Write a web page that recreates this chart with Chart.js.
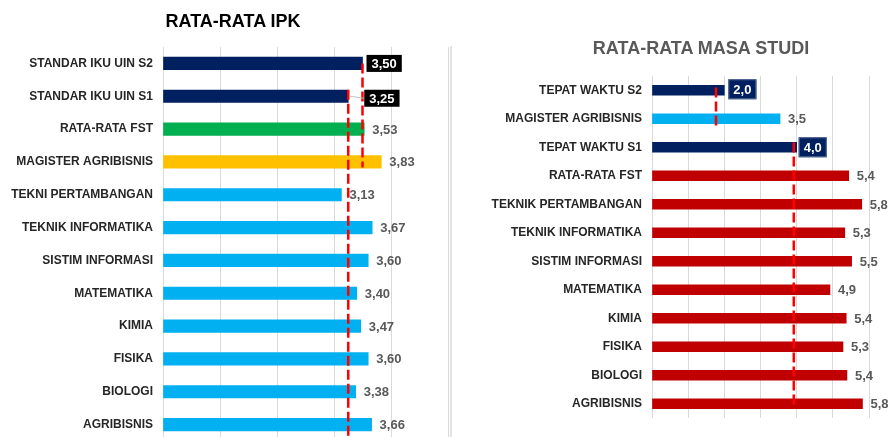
<!DOCTYPE html>
<html>
<head>
<meta charset="utf-8">
<script src="https://cdn.jsdelivr.net/npm/chart.js@4/dist/chart.umd.min.js"></script>
<style>
  html, body { margin: 0; padding: 0; background: #ffffff; overflow: hidden; width: 892px; height: 437px; }
  #wrap { position: relative; width: 892px; height: 437px; overflow: hidden; }
  canvas { position: absolute; top: 0; }
  #c1 { left: 0; }
  #c2 { left: 450px; }
  .title { position: absolute; font-family: "Liberation Sans", Arial, sans-serif; font-weight: bold; font-size: 18px; line-height: 18px; white-space: nowrap; transform: translateX(-50%); }
  #t1 { left: 233px; top: 12px; color: #000000; }
  #t2 { left: 701px; top: 39px; color: #595959; }
  #sep { position: absolute; left: 450px; top: 46px; width: 2px; height: 391px; background: #e3e3e3; }
</style>
</head>
<body>
<div id="wrap">
  <div id="sep"></div>
  <canvas id="c1" width="450" height="460" style="width:450px;height:460px"></canvas>
  <canvas id="c2" width="442" height="437" style="width:442px;height:437px"></canvas>
  <div class="title" id="t1">RATA-RATA IPK</div>
  <div class="title" id="t2">RATA-RATA MASA STUDI</div>
</div>
<script>
// ---------- DATA: RATA-RATA IPK ----------
const categoriesIPK = ['STANDAR IKU UIN S2', 'STANDAR IKU UIN S1', 'RATA-RATA FST', 'MAGISTER AGRIBISNIS',
  'TEKNI PERTAMBANGAN', 'TEKNIK INFORMATIKA', 'SISTIM INFORMASI', 'MATEMATIKA', 'KIMIA', 'FISIKA', 'BIOLOGI', 'AGRIBISNIS'];
const valuesIPK = [3.50, 3.25, 3.53, 3.83, 3.13, 3.67, 3.60, 3.40, 3.47, 3.60, 3.38, 3.66];
const ticksIPK = [0, 1, 2, 3, 4, 5];
// reference (dashed) lines: value and the category span (index positions) they cover
const refValuesIPK = [3.25, 3.50];
const refFromIPK = [0.8, 0];
const refToIPK = [11.5, 3.17];

// ---------- DATA: RATA-RATA MASA STUDI ----------
const categoriesMS = ['TEPAT WAKTU S2', 'MAGISTER AGRIBISNIS', 'TEPAT WAKTU S1', 'RATA-RATA FST',
  'TEKNIK PERTAMBANGAN', 'TEKNIK INFORMATIKA', 'SISTIM INFORMASI', 'MATEMATIKA', 'KIMIA', 'FISIKA', 'BIOLOGI', 'AGRIBISNIS'];
const valuesMS = [2.0, 3.54, 4.0, 5.44, 5.8, 5.33, 5.52, 4.92, 5.37, 5.28, 5.39, 5.82];
const ticksMS = [0, 1, 2, 3, 4, 5, 6];
const refValuesMS = [1.77, 3.92];
const refFromMS = [-0.1, 1.83];
const refToMS = [1.3, 11.18];

// ---------- STYLES ----------
const NAVY = '#002060', GREEN = '#00B050', GOLD = '#FFC000', SKY = '#00B0F0', RED = '#C00000';
const colorsIPK = [NAVY, NAVY, GREEN, GOLD, SKY, SKY, SKY, SKY, SKY, SKY, SKY, SKY];
const colorsMS = [NAVY, SKY, NAVY, RED, RED, RED, RED, RED, RED, RED, RED, RED];
const FONT = '"Liberation Sans", Arial, sans-serif';

function makeOverlay(cfg, refValues, refFrom, refTo) {
  return {
    id: 'overlay',
    afterDatasetsDraw(chart) {
      const ctx = chart.ctx;
      const xs = chart.scales.x, ys = chart.scales.y;
      // dashed reference lines
      ctx.save();
      ctx.strokeStyle = '#FF0000';
      ctx.lineWidth = 2.5;
      ctx.setLineDash([10, 4]);
      refValues.forEach((v, k) => {
        const x = xs.getPixelForValue(v);
        ctx.beginPath();
        ctx.moveTo(x, ys.getPixelForValue(refFrom[k]));
        ctx.lineTo(x, ys.getPixelForValue(refTo[k]));
        ctx.stroke();
      });
      ctx.restore();
      // value labels
      const meta = chart.getDatasetMeta(0);
      const data = chart.data.datasets[0].data;
      ctx.save();
      ctx.textBaseline = 'middle';
      meta.data.forEach((bar, i) => {
        const text = data[i].toFixed(cfg.decimals).replace('.', ',');
        const box = cfg.boxes[i];
        if (box) {
          ctx.font = box.font;
          const w = ctx.measureText(text).width + 2 * box.padX;
          const x0 = bar.x + box.dx;
          const yc = bar.y + (box.dy || 0);
          if (box.leader) {
            ctx.strokeStyle = '#bfbfbf';
            ctx.lineWidth = 1;
            ctx.beginPath();
            ctx.moveTo(bar.x + 2, bar.y);
            ctx.lineTo(x0, yc);
            ctx.stroke();
          }
          ctx.fillStyle = box.fill;
          ctx.fillRect(x0, yc - box.h / 2, w, box.h);
          if (box.stroke) {
            ctx.strokeStyle = box.stroke;
            ctx.lineWidth = 1;
            ctx.strokeRect(x0 + 0.5, yc - box.h / 2 + 0.5, w - 1, box.h - 1);
          }
          ctx.fillStyle = '#ffffff';
          ctx.textAlign = 'center';
          ctx.fillText(text, x0 + w / 2, yc + 1);
        } else {
          ctx.font = cfg.font;
          ctx.fillStyle = cfg.color;
          ctx.textAlign = 'left';
          ctx.fillText(text, bar.x + cfg.gap, bar.y + 1);
        }
      });
      ctx.restore();
    }
  };
}

function buildChart(canvasId, cats, vals, colors, ticks, overlay, layout, barThick) {
  return new Chart(document.getElementById(canvasId), {
    type: 'bar',
    data: {
      labels: cats,
      datasets: [{
        data: vals,
        backgroundColor: colors,
        borderWidth: 0,
        barThickness: barThick,
        grouped: false
      }]
    },
    options: {
      indexAxis: 'y',
      responsive: false,
      animation: false,
      events: [],
      layout: { padding: layout.padding },
      plugins: { legend: { display: false }, tooltip: { enabled: false }, title: { display: false } },
      scales: {
        x: {
          type: 'linear',
          min: ticks[0],
          max: ticks[ticks.length - 1],
          afterBuildTicks: (s) => { s.ticks = ticks.map(v => ({ value: v })); },
          ticks: { display: false },
          grid: { color: '#D9D9D9', lineWidth: 1, drawTicks: false },
          border: { display: false }
        },
        y: {
          type: 'category',
          position: 'left',
          offset: true,
          afterFit: (s) => { s.width = layout.axisWidth; },
          ticks: { color: '#262626', padding: 10, font: { family: FONT, size: 12, weight: 'bold' } },
          grid: { display: false, drawTicks: false },
          border: { display: false }
        }
      }
    },
    plugins: [overlay]
  });
}

buildChart('c1', categoriesIPK, valuesIPK, colorsIPK, ticksIPK,
  makeOverlay({
    decimals: 2, font: 'bold 13px ' + FONT, color: '#595959', gap: 8,
    boxes: {
      0: { fill: '#000000', font: 'bold 13px ' + FONT, padX: 5, h: 17, dx: 4, dy: 0 },
      1: { fill: '#000000', font: 'bold 13px ' + FONT, padX: 5, h: 17, dx: 16, dy: 2, leader: true }
    }
  }, refValuesIPK, refFromIPK, refToIPK),
  { padding: { top: 47, bottom: 19, left: 0, right: 2 }, axisWidth: 163 }, 12.5);

buildChart('c2', categoriesMS, valuesMS, colorsMS, ticksMS,
  makeOverlay({
    decimals: 1, font: 'bold 13px ' + FONT, color: '#595959', gap: 8,
    boxes: {
      0: { fill: NAVY, stroke: '#5a6f96', font: 'bold 13px ' + FONT, padX: 5, h: 20, dx: 4, dy: -1 },
      2: { fill: NAVY, stroke: '#5a6f96', font: 'bold 13px ' + FONT, padX: 5, h: 20, dx: 2, dy: 0 }
    }
  }, refValuesMS, refFromMS, refToMS),
  { padding: { top: 76, bottom: 19, left: 0, right: 23 }, axisWidth: 202 }, 10);
</script>
</body>
</html>
